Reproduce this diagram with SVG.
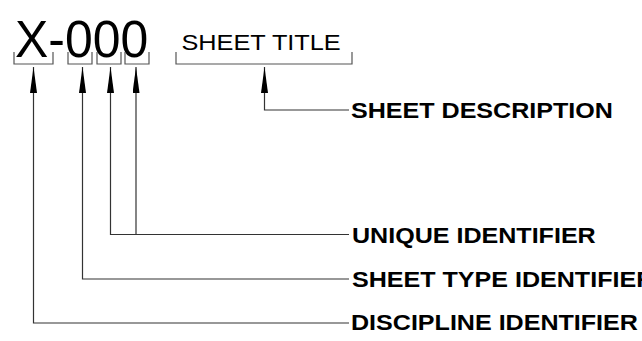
<svg xmlns="http://www.w3.org/2000/svg" width="642" height="341" viewBox="0 0 642 341">
  <defs>
    <marker id="ah" markerUnits="userSpaceOnUse" viewBox="0 0 26 7" refX="26" refY="3.5" markerWidth="26" markerHeight="7" orient="auto-start-reverse">
      <path d="M0,0 L26,3.5 L0,7 z" fill="#000"/>
    </marker>
  </defs>
  <style>
    .big { font-family: "Liberation Sans", Arial, sans-serif; font-size: 52px; fill: #000; }
    .title { font-family: "Liberation Sans", Arial, sans-serif; font-size: 22px; fill: #000; }
    .lbl { font-family: "Liberation Sans", Arial, sans-serif; font-size: 22px; font-weight: bold; fill: #000; }
    .br { fill: none; stroke: #555; stroke-width: 1.2; }
    .con { fill: none; stroke: #333; stroke-width: 1.2; marker-start: url(#ah); }
  </style>
  <rect width="642" height="341" fill="#fff"/>
  <g id="sheet-number">
    <text class="big" transform="translate(15,57) scale(0.96,1)">X-000</text>
    <path class="br" d="M14,52 V64 H53 V52"/>
    <path class="br" d="M68,52 V64 H92 V52"/>
    <path class="br" d="M97,52 V64 H121 V52"/>
    <path class="br" d="M125,52 V64 H149 V52"/>
  </g>
  <g id="sheet-title">
    <text class="title" transform="translate(181.5,50) scale(1.15,1)">SHEET TITLE</text>
    <path class="br" d="M176,52 V64 H352 V52"/>
  </g>
  <g id="connectors">
    <path class="con" d="M264.5,67 V110 H349"/>
    <path class="con" d="M136,67 V234.5"/>
    <path class="con" d="M110.5,67 V234.5 H349"/>
    <path class="con" d="M82.5,67 V279 H349"/>
    <path class="con" d="M33.5,67 V323 H349"/>
  </g>
  <g id="sheet-description">
    <text class="lbl" transform="translate(351,118) scale(1.14,1)">SHEET DESCRIPTION</text>
  </g>
  <g id="unique-identifier">
    <text class="lbl" transform="translate(352,243) scale(1.14,1)">UNIQUE IDENTIFIER</text>
  </g>
  <g id="sheet-type-identifier">
    <text class="lbl" transform="translate(352,287) scale(1.14,1)">SHEET TYPE IDENTIFIER</text>
  </g>
  <g id="discipline-identifier">
    <text class="lbl" transform="translate(351,330) scale(1.14,1)">DISCIPLINE IDENTIFIER</text>
  </g>
</svg>
